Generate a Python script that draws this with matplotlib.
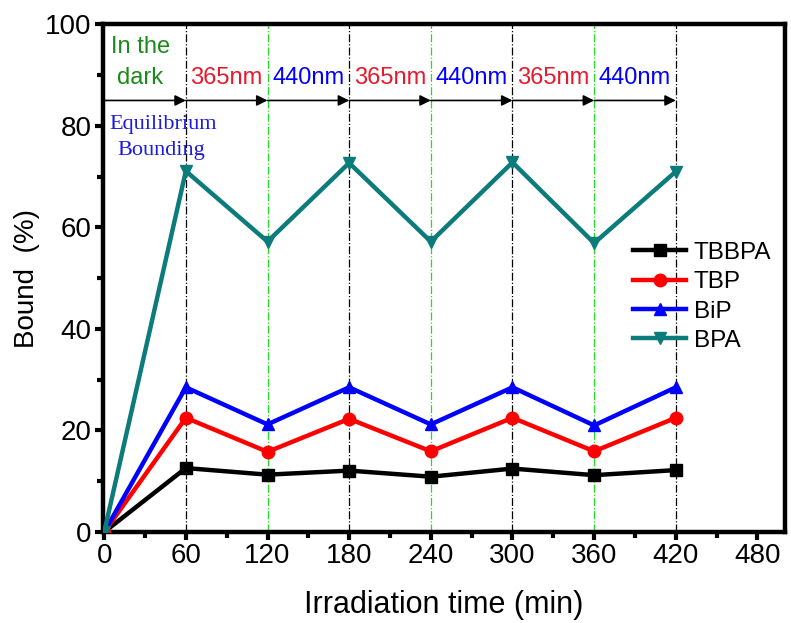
import matplotlib
matplotlib.use("Agg")
import matplotlib.pyplot as plt
from matplotlib.ticker import MultipleLocator

plt.rcParams['font.family'] = ['Liberation Sans', 'DejaVu Sans']

time = [0, 60, 120, 180, 240, 300, 360, 420]
tbbpa = [0, 12.6, 11.3, 12.1, 10.9, 12.5, 11.2, 12.2]
tbp = [0, 22.5, 15.8, 22.3, 15.9, 22.5, 15.9, 22.5]
bip = [0, 28.5, 21.2, 28.5, 21.2, 28.5, 21.0, 28.5]
bpa = [0, 71.1, 57.2, 72.7, 57.2, 72.8, 56.9, 71.0]

uv_times = [60, 180, 300, 420]
vis_times = [120, 240, 360]
phase_starts = [60, 120, 180, 240, 300, 360]
phase_labels = ["365nm", "440nm", "365nm", "440nm", "365nm", "440nm"]
phase_colors = ["#e8192c", "#0000ff", "#e8192c", "#0000ff", "#e8192c", "#0000ff"]

fig = plt.figure(figsize=(7.91, 6.23), dpi=100)
ax = fig.add_axes([0.130, 0.146, 0.862, 0.815])

for t in uv_times:
    ax.axvline(t, color="black", lw=0.9, ls="-.", zorder=1)
for t in vis_times:
    ax.axvline(t, color="#22dd22", lw=0.9, ls="-.", zorder=1)

series = [
    ("TBBPA", tbbpa, "black", "s", 8),
    ("TBP", tbp, "#ff0000", "o", 9),
    ("BiP", bip, "#0000ff", "^", 9),
    ("BPA", bpa, "#0b7b7b", "v", 9),
]
for name, vals, col, mk, ms in series:
    ax.plot(time, vals, color=col, lw=3.2, marker=mk, ms=ms, label=name, zorder=3)

# Phase arrows along the top
arrow_y = 85
bounds = [0] + phase_starts + [420]
for a, b in zip(bounds[:-1], bounds[1:]):
    ax.annotate("", xy=(b, arrow_y), xytext=(a, arrow_y),
                arrowprops=dict(arrowstyle="-|>", color="black", lw=1.2,
                                mutation_scale=16, shrinkA=0, shrinkB=0))
for s, lab, c in zip(phase_starts, phase_labels, phase_colors):
    ax.text(s + 30, 89.5, lab, color=c, fontsize=17, ha="center", va="center")

ax.text(5, 95.5, "In the", color="#1a8a1a", fontsize=17, ha="left", va="center")
ax.text(9.5, 89.5, "dark", color="#1a8a1a", fontsize=17, ha="left", va="center")
ax.text(4, 80.3, "Equilibrium", color="#1a1ae0", fontsize=16, ha="left",
        va="center", family=["Liberation Serif", "DejaVu Serif"])
ax.text(10, 75.2, "Bounding", color="#1a1ae0", fontsize=16, ha="left",
        va="center", family=["Liberation Serif", "DejaVu Serif"])

ax.set_xlim(-1, 500)
ax.set_ylim(0, 100)
ax.xaxis.set_major_locator(MultipleLocator(60))
ax.xaxis.set_minor_locator(MultipleLocator(30))
ax.yaxis.set_major_locator(MultipleLocator(20))
ax.yaxis.set_minor_locator(MultipleLocator(10))
ax.tick_params(which="major", direction="out", length=6, width=3, labelsize=20,
               top=False, right=False, pad=2)
ax.tick_params(which="minor", direction="out", length=4, width=3,
               top=False, right=False)
for sp in ax.spines.values():
    sp.set_linewidth(3.2)

ax.set_xlabel("Irradiation time (min)", fontsize=22, labelpad=15)
ax.set_ylabel("Bound  (%)", fontsize=20, labelpad=4)

ax.legend(loc="center left", bbox_to_anchor=(0.763, 0.463), frameon=False,
          fontsize=17.5, handlelength=2.2, handletextpad=0.3, labelspacing=0.3,
          borderaxespad=0)

fig.savefig("out.png", dpi=100)
